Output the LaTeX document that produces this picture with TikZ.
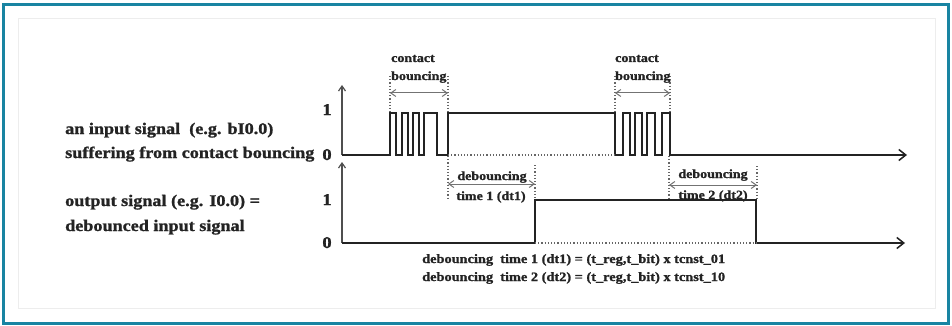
\documentclass[tikz,border=0pt]{standalone}
\usepackage{fontspec}
\setmainfont{Liberation Serif}[FakeStretch=1.12, BoldFeatures={FakeBold=1.2}]
\usetikzlibrary{arrows.meta}
\definecolor{frameteal}{RGB}{24,132,162}
\definecolor{sigcol}{RGB}{35,35,35}
\tikzset{
  sigline/.style={line width=1.7pt, draw=sigcol, line join=miter},
  axisarrow/.style={line width=1.5pt, draw=sigcol, -{Straight Barb[length=7pt,width=11pt,line width=1.5pt]}},
  vaxis/.style={line width=1.3pt, draw=sigcol!80, -{Straight Barb[length=5pt,width=7pt,line width=1.2pt]}},
  dotl/.style={line width=1.1pt, draw=black!60, dash pattern=on 1.2pt off 2pt},
  dimarrow/.style={line width=1pt, draw=black!55, {Straight Barb[length=5pt,width=7pt]}-{Straight Barb[length=5pt,width=7pt]}},
  biglbl/.style={font=\bfseries\fontsize{16.2}{18}\selectfont, inner sep=0pt, anchor=base west, text=sigcol},
  numlbl/.style={font=\bfseries\fontsize{16.5}{18}\selectfont, inner sep=0pt, anchor=base, text=sigcol},
  smlbl/.style={font=\bfseries\fontsize{12.5}{14}\selectfont, inner sep=0pt, anchor=base west, text=sigcol},
  smclbl/.style={font=\bfseries\fontsize{12.5}{14}\selectfont, inner sep=0pt, anchor=base, text=sigcol},
  botlbl/.style={font=\bfseries\fontsize{12.8}{14}\selectfont, inner sep=0pt, anchor=base west, text=sigcol}
}
\begin{document}
\begin{tikzpicture}[x=1pt,y=-1pt]
\useasboundingbox (0,0) rectangle (952,326);
\fill[white] (0,0) rectangle (952,326);
% frame
\draw[line width=3pt, frameteal] (3.5,4.5) rectangle (948.5,323.5);
\draw[line width=0.6pt, black!7] (18,18) rectangle (935,308);

% coordinates
\coordinate (o1) at (342,155);
\coordinate (y1) at (342,85);
\coordinate (x1) at (907,155);
\coordinate (o2) at (342,243);
\coordinate (y2) at (342,162);
\coordinate (x2) at (905,243);

% axes (vertical)
\draw[vaxis] (o1) -- (y1);
\draw[vaxis] (o2) -- (y2);

% input signal
\draw[sigline] (o1) -- (390,155) -- (390,113) -- (396,113) -- (396,155) -- (402,155) -- (402,113) -- (408,113) -- (408,155)
  -- (413,155) -- (413,113) -- (419,113) -- (419,155) -- (424,155) -- (424,113) -- (437,113) -- (437,155) -- (448,155)
  -- (448,113) -- (615,113) -- (615,155) -- (623,155) -- (623,113) -- (630,113) -- (630,155) -- (635,155) -- (635,113)
  -- (642,113) -- (642,155) -- (647,155) -- (647,113) -- (655,113) -- (655,155) -- (662,155) -- (662,113) -- (670,113)
  -- (670,155) -- (870,155);
\draw[axisarrow] (860,155) -- (x1);
\draw[dotl] (448,155) -- (615,155);

% output signal
\draw[sigline] (o2) -- (535,243) -- (535,200) -- (756,200) -- (756,243) -- (870,243);
\draw[axisarrow] (860,243) -- (x2);
\draw[dotl] (535,243) -- (756,243);

% dotted guides
\draw[dotl] (390,76) -- (390,112);
\draw[dotl] (448,76) -- (448,112);
\draw[dotl] (615,76) -- (615,112);
\draw[dotl] (670,76) -- (670,112);
\draw[dotl] (448,156) -- (448,199);
\draw[dotl] (535,165) -- (535,199);
\draw[dotl] (669,156) -- (669,200);
\draw[dotl] (757,166) -- (757,199);

% dimension arrows
\coordinate (b1l) at (390,93); \coordinate (b1r) at (448,93);
\coordinate (b2l) at (615,93); \coordinate (b2r) at (670,93);
\coordinate (d1l) at (448,184); \coordinate (d1r) at (535,184);
\coordinate (d2l) at (669,185); \coordinate (d2r) at (757,185);
\draw[dimarrow] (b1l) -- (b1r);
\draw[dimarrow] (b2l) -- (b2r);
\draw[dimarrow] (d1l) -- (d1r);
\draw[dimarrow] (d2l) -- (d2r);

% labels
\node[smlbl] (cb1a) at (391,62) {contact};
\node[smlbl] (cb1b) at (391,80) {bouncing};
\node[smlbl] (cb2a) at (615,62) {contact};
\node[smlbl] (cb2b) at (615,80) {bouncing};
\node[smclbl] (db1a) at (492,180) {debouncing};
\node[smclbl] (db1b) at (491,200) {time 1 (dt1)};
\node[smclbl] (db2a) at (713,178) {debouncing};
\node[smclbl] (db2b) at (713,199) {time 2 (dt2)};

\node[numlbl] (n1a) at (327,115) {1};
\node[numlbl] (n0a) at (327,160) {0};
\node[numlbl] (n1b) at (327,205) {1};
\node[numlbl] (n0b) at (327,248) {0};

\node[biglbl] (in1) at (65,134) {an input signal\ \ (e.g. bI0.0)};
\node[biglbl] (in2) at (65,158) {suffering from contact bouncing};
\node[biglbl] (out1) at (65,206) {output signal (e.g. I0.0) =};
\node[biglbl] (out2) at (65,231) {debounced input signal};

\node[botlbl] (f1) at (422,263) {debouncing\ \ time 1 (dt1) = (t\_reg,t\_bit) x tcnst\_01};
\node[botlbl] (f2) at (422,281) {debouncing\ \ time 2 (dt2) = (t\_reg,t\_bit) x tcnst\_10};
\end{tikzpicture}
\end{document}
